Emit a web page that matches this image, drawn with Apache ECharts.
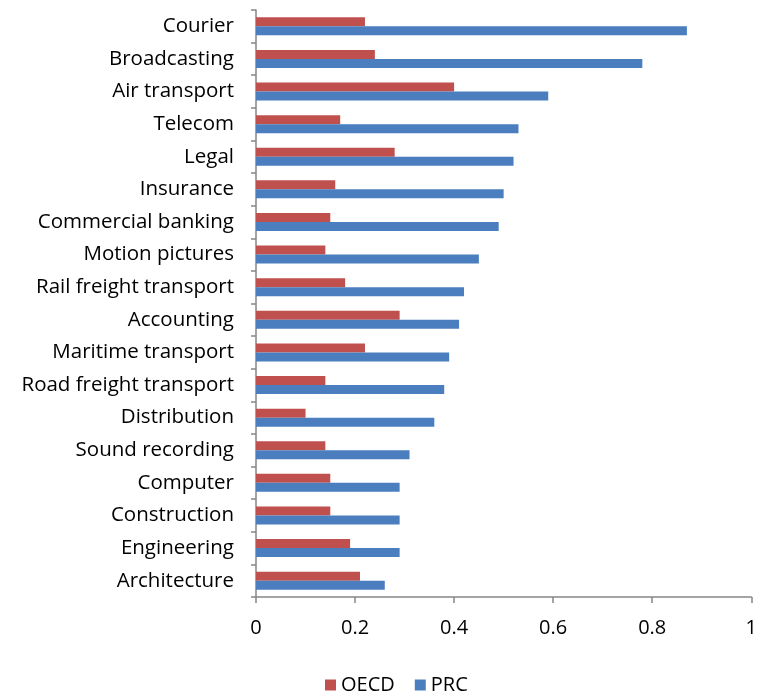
<!DOCTYPE html>
<html>
<head>
<meta charset="utf-8">
<script src="https://cdn.jsdelivr.net/npm/echarts@6/dist/echarts.min.js"></script>
<style>
  html, body { margin: 0; padding: 0; background: #fff; }
  #chart { width: 760px; height: 695px; }
</style>
</head>
<body>
<div id="chart"></div>
<script>
var sectors = ['Courier', 'Broadcasting', 'Air transport', 'Telecom', 'Legal', 'Insurance',
    'Commercial banking', 'Motion pictures', 'Rail freight transport', 'Accounting',
    'Maritime transport', 'Road freight transport', 'Distribution', 'Sound recording',
    'Computer', 'Construction', 'Engineering', 'Architecture'];
var oecd = [0.22, 0.24, 0.40, 0.17, 0.28, 0.16, 0.15, 0.14, 0.18, 0.29, 0.22, 0.14, 0.10, 0.14, 0.15, 0.15, 0.19, 0.21];
var prc = [0.87, 0.78, 0.59, 0.53, 0.52, 0.50, 0.49, 0.45, 0.42, 0.41, 0.39, 0.38, 0.36, 0.31, 0.29, 0.29, 0.29, 0.26];

var FONT = '"Open Sans", sans-serif';
var AXIS = '#868686';

var myChart = echarts.init(document.getElementById('chart'));

var option = {
    animation: false,
    grid: {
        left: 256,
        right: 5,
        top: 10,
        bottom: 98
    },
    legend: {
        data: ['OECD', 'PRC'],
        bottom: -5,
        left: 320,
        itemWidth: 11,
        itemHeight: 11,
        itemGap: 20,
        icon: 'rect',
        textStyle: { fontFamily: FONT, fontSize: 20, color: '#000' }
    },
    xAxis: {
        type: 'value',
        min: 0,
        max: 1,
        interval: 0.2,
        splitLine: { show: false },
        axisLine: { show: true, lineStyle: { color: AXIS, width: 1.5 } },
        axisTick: { show: true, length: 6, lineStyle: { color: AXIS, width: 1.5 } },
        axisLabel: {
            margin: 21,
            fontFamily: FONT,
            fontSize: 20,
            color: '#000',
            formatter: function (v) { return String(+v.toFixed(1)); }
        }
    },
    yAxis: {
        type: 'category',
        inverse: true,
        data: sectors,
        axisLine: { show: true, lineStyle: { color: AXIS, width: 1.5 } },
        axisTick: { show: true, length: 5, lineStyle: { color: AXIS, width: 1.5 } },
        axisLabel: {
            margin: 22,
            fontFamily: FONT,
            fontSize: 20.5,
            color: '#000',
            padding: [4, 0, 0, 0]
        }
    },
    series: [
        {
            name: 'OECD',
            type: 'bar',
            data: oecd,
            barWidth: 9,
            barGap: '0%',
            itemStyle: { color: '#C0504D' }
        },
        {
            name: 'PRC',
            type: 'bar',
            data: prc,
            barWidth: 9,
            barGap: '0%',
            itemStyle: { color: '#4A7EBE' }
        }
    ]
};

myChart.setOption(option);
</script>
</body>
</html>
